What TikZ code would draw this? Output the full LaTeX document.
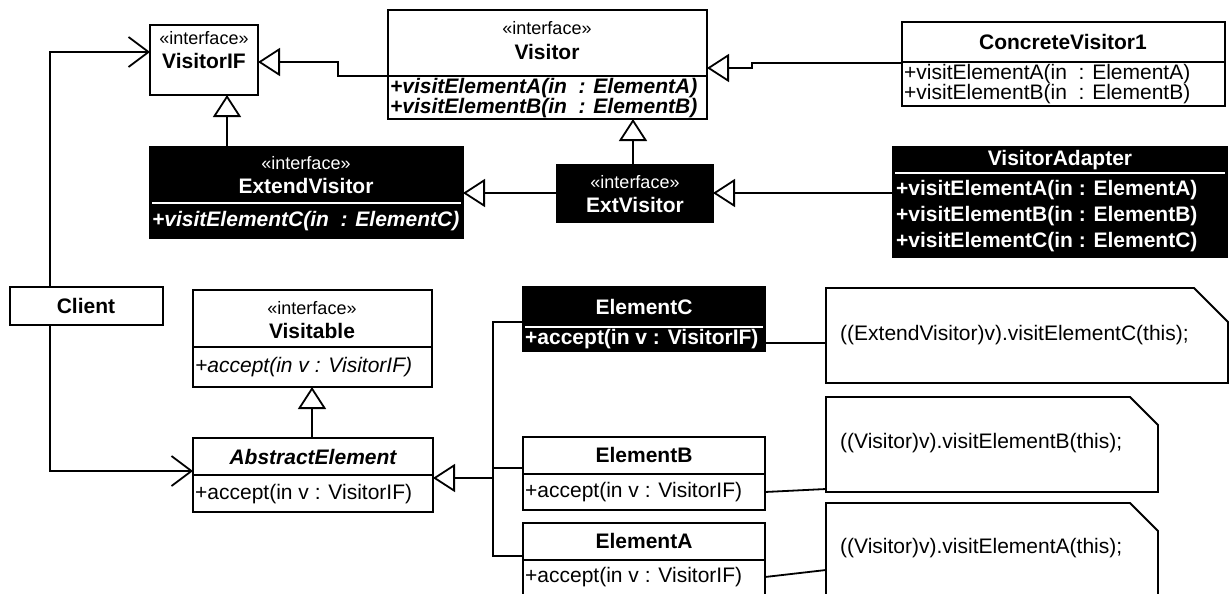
\documentclass[tikz,border=0pt]{standalone}
\usepackage{fontspec}
\setmainfont{Liberation Sans}
\usetikzlibrary{arrows.meta}
\newcommand\stf{\fontsize{18}{20}\selectfont}
\newcommand\ttf{\fontsize{21}{23}\selectfont\bfseries}
\newcommand\mmf{\fontsize{21}{23}\selectfont}
\begin{document}
\begin{tikzpicture}[x=1pt,y=-1pt,
 box/.style={draw, line width=2pt, inner sep=0pt, outer sep=0pt, anchor=north west, fill=white},
 dark/.style={box, fill=black},
 gen/.style={line width=1.8pt, -{Triangle[open, length=22pt, width=28pt]}},
 assoc/.style={line width=1.8pt, -{Straight Barb[length=20pt, width=30pt]}},
 link/.style={line width=1.8pt},
 st/.style={font=\stf, inner sep=0pt},
 ti/.style={font=\ttf, inner sep=0pt},
 me/.style={font=\mmf, inner sep=0pt, anchor=west},
 notebox/.style={inner sep=0pt, outer sep=0pt, anchor=north west},
 wt/.style={text=white}
]
\useasboundingbox (0,0) rectangle (1229,594);

% ---------- top row ----------
\node[box, minimum width=108pt, minimum height=70pt] (vif) at (150,25) {};
\node[st] (vifS) at (204,38) {«interface»};
\node[ti] (vifN) at (204,61) {VisitorIF};

\node[box, minimum width=319pt, minimum height=109pt] (vis) at (388,10) {};
\draw[link] (vis.west |- 0,76) -- (vis.east |- 0,76);
\node[st] (visS) at (547,28) {«interface»};
\node[ti] (visN) at (547,52) {Visitor};
\node[me, font=\mmf\bfseries\itshape] (visM1) at (390,88) {+visitElementA(in\ \ : ElementA)};
\node[me, font=\mmf\bfseries\itshape] (visM2) at (390,108) {+visitElementB(in\ \ : ElementB)};

\node[box, minimum width=323pt, minimum height=84pt] (cv1) at (902,22) {};
\draw[link] (cv1.west |- 0,62) -- (cv1.east |- 0,62);
\node[ti] (cv1N) at (1063,42) {ConcreteVisitor1};
\node[me] (cv1M1) at (904,74) {+visitElementA(in\ \ : ElementA)};
\node[me] (cv1M2) at (904,94) {+visitElementB(in\ \ : ElementB)};

% ---------- second row (dark) ----------
\node[dark, minimum width=313pt, minimum height=91pt] (extv) at (150,147) {};
\draw[link, white] ([xshift=2pt]extv.west |- 0,203) -- ([xshift=-2pt]extv.east |- 0,203);
\node[st, wt] (extvS) at (306,163) {«interface»};
\node[ti, wt] (extvN) at (306,186) {ExtendVisitor};
\node[me, wt, font=\mmf\bfseries\itshape] (extvM) at (152,221) {+visitElementC(in\ \ : ElementC)};

\node[dark, minimum width=156pt, minimum height=57pt] (mid) at (557,165) {};
\node[st, wt] (midS) at (635,182) {«interface»};
\node[ti, wt] (midN) at (635,205) {ExtVisitor};

\node[dark, minimum width=334pt, minimum height=110pt] (adp) at (893,147) {};
\draw[link, white] ([xshift=2pt]adp.west |- 0,173) -- ([xshift=-2pt]adp.east |- 0,173);
\node[ti, wt] (adpN) at (1060,160) {VisitorAdapter};
\node[me, wt, font=\mmf\bfseries] (adpM1) at (896,190) {+visitElementA(in : ElementA)};
\node[me, wt, font=\mmf\bfseries] (adpM2) at (896,216) {+visitElementB(in : ElementB)};
\node[me, wt, font=\mmf\bfseries] (adpM3) at (896,242) {+visitElementC(in : ElementC)};

% ---------- lower left ----------
\node[box, minimum width=153pt, minimum height=38pt] (client) at (10,287) {};
\node[ti] (clientN) at (86,306) {Client};

\node[box, minimum width=239pt, minimum height=97pt] (vable) at (193,290) {};
\draw[link] (vable.west |- 0,347) -- (vable.east |- 0,347);
\node[st] (vableS) at (312,308) {«interface»};
\node[ti] (vableN) at (312,331) {Visitable};
\node[me, font=\mmf\itshape] (vableM) at (195,367) {+accept(in v : VisitorIF)};

\node[box, minimum width=240pt, minimum height=74pt] (abs) at (193,438) {};
\draw[link] (abs.west |- 0,475) -- (abs.east |- 0,475);
\node[ti, font=\ttf\itshape] (absN) at (313,457) {AbstractElement};
\node[me] (absM) at (195,494) {+accept(in v : VisitorIF)};

% ---------- elements ----------
\node[dark, minimum width=242pt, minimum height=64pt] (elc) at (523,287) {};
\draw[link, white] ([xshift=2pt]elc.west |- 0,327) -- ([xshift=-2pt]elc.east |- 0,327);
\node[ti, wt] (elcN) at (644,307) {ElementC};
\node[me, wt, font=\mmf\bfseries] (elcM) at (525,339) {+accept(in v : VisitorIF)};

\node[box, minimum width=242pt, minimum height=73pt] (elb) at (523,437) {};
\draw[link] (elb.west |- 0,474) -- (elb.east |- 0,474);
\node[ti] (elbN) at (644,455) {ElementB};
\node[me] (elbM) at (525,492) {+accept(in v : VisitorIF)};

\node[box, minimum width=242pt, minimum height=74pt] (ela) at (523,523) {};
\draw[link] (ela.west |- 0,560) -- (ela.east |- 0,560);
\node[ti] (elaN) at (644,541) {ElementA};
\node[me] (elaM) at (525,577) {+accept(in v : VisitorIF)};

% ---------- notes ----------
\node[notebox, minimum width=402pt, minimum height=95pt] (notec) at (826,288) {};
\draw[link] (notec.north west) -- ([xshift=-34pt]notec.north east) -- ([yshift=-34pt]notec.north east) -- (notec.south east) -- (notec.south west) -- cycle;
\node[me] (notecT) at (840,335) {((ExtendVisitor)v).visitElementC(this);};

\node[notebox, minimum width=332pt, minimum height=95pt] (noteb) at (826,397) {};
\draw[link] (noteb.north west) -- ([xshift=-28pt]noteb.north east) -- ([yshift=-28pt]noteb.north east) -- (noteb.south east) -- (noteb.south west) -- cycle;
\node[me] (notebT) at (840,443) {((Visitor)v).visitElementB(this);};

\node[notebox, minimum width=332pt, minimum height=95pt] (notea) at (826,503) {};
\draw[link] (notea.north west) -- ([xshift=-28pt]notea.north east) -- ([yshift=-28pt]notea.north east) -- (notea.south east) -- (notea.south west) -- cycle;
\node[me] (noteaT) at (840,548) {((Visitor)v).visitElementA(this);};

% ---------- connectors ----------
\draw[gen] (cv1.west |- 0,63) -| (752,68) -- (vis.east |- 0,68);
\draw[gen] (vis.west |- 0,76) -| (338,62) -- (vif.east |- 0,62);
\draw[gen] (extv.north -| 227,0) -- (vif.south -| 227,0);
\draw[gen] (mid.north -| 633,0) -- (vis.south -| 633,0);
\draw[gen] (mid.west |- 0,193) -- (extv.east |- 0,193);
\draw[gen] (adp.west |- 0,193) -- (mid.east |- 0,193);
\draw[assoc] (client.north -| 50,0) |- (vif.west |- 0,52);
\draw[assoc] (client.south -| 50,0) |- (abs.west |- 0,471);
\draw[gen] (abs.north -| 312,0) -- (vable.south -| 312,0);
\coordinate (bus) at (493,478);
\draw[link] (elc.west |- 0,322) -| (493,556) -- (ela.west |- 0,556);
\draw[link] (elb.west |- 0,468) -- (493,468);
\draw[gen] (bus) -- (abs.east |- bus);
\draw[link] (elc.east |- 0,343) -- (notec.west |- 0,343);
\draw[link] (elb.east |- 0,492) -- (noteb.west |- 0,489);
\draw[link] (ela.east |- 0,577) -- (notea.west |- 0,570);
\end{tikzpicture}
\end{document}
